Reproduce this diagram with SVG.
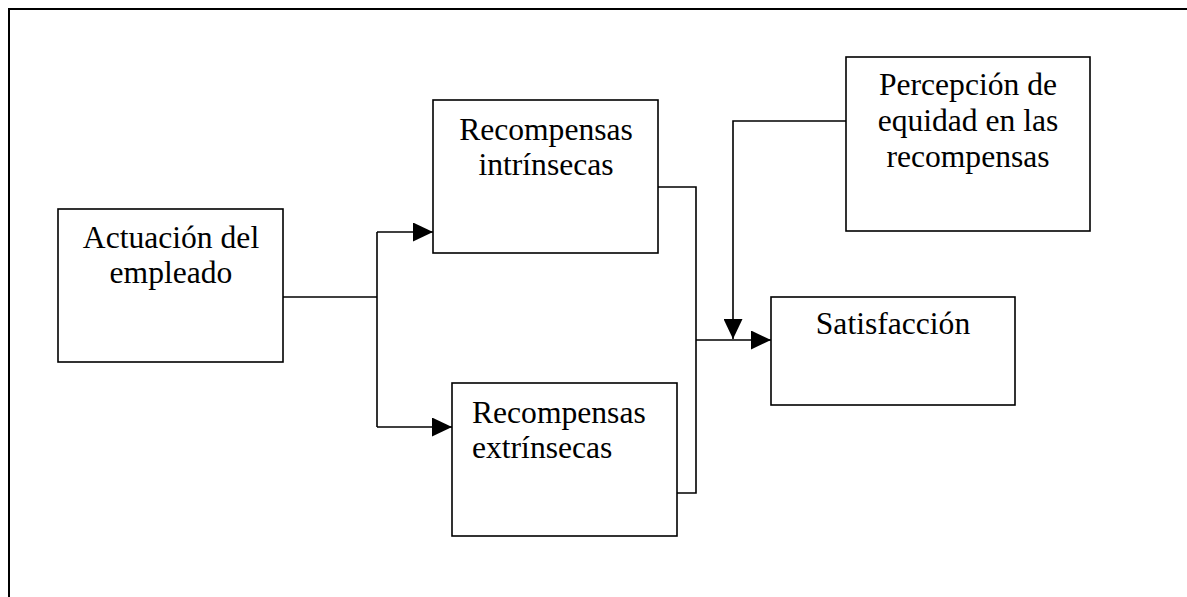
<svg xmlns="http://www.w3.org/2000/svg" width="1187" height="597" viewBox="0 0 1187 597">
  <style>
    .box { fill: #fff; stroke: #000; stroke-width: 1.6; }
    .lbl { font-family: "Liberation Serif", "Times New Roman", serif; font-size: 31.6px; fill: #000; }
    .c { text-anchor: middle; }
    .conn { fill: none; stroke: #000; stroke-width: 1.6; }
  </style>
  <defs>
    <marker id="arr" markerUnits="userSpaceOnUse" markerWidth="20" markerHeight="19" refX="20" refY="9.5" orient="auto">
      <path d="M0,0 L20,9.5 L0,19 Z" fill="#000"/>
    </marker>
  </defs>
  <rect x="0" y="0" width="1187" height="597" fill="#fff"/>
  <rect x="9" y="9" width="1200" height="620" fill="none" stroke="#000" stroke-width="2"/>

  <g id="connectors">
    <path class="conn" d="M283,297 H377"/>
    <path class="conn" d="M377,232 V427"/>
    <path class="conn" d="M377,232 H433" marker-end="url(#arr)"/>
    <path class="conn" d="M377,427 H452" marker-end="url(#arr)"/>
    <path class="conn" d="M658,187 H696 V493 H677"/>
    <path class="conn" d="M696,340 H771" marker-end="url(#arr)"/>
    <path class="conn" d="M846,121 H733 V339" marker-end="url(#arr)"/>
  </g>

  <g id="actuacion">
    <rect class="box" x="58" y="209" width="225" height="153"/>
    <text class="lbl c" x="171" y="248">Actuación del</text>
    <text class="lbl c" x="171" y="283">empleado</text>
  </g>

  <g id="intrinsecas">
    <rect class="box" x="433" y="100" width="225" height="153"/>
    <text class="lbl c" x="546" y="140">Recompensas</text>
    <text class="lbl c" x="546" y="175">intrínsecas</text>
  </g>

  <g id="extrinsecas">
    <rect class="box" x="452" y="383" width="225" height="153"/>
    <text class="lbl" x="472" y="423">Recompensas</text>
    <text class="lbl" x="472" y="458">extrínsecas</text>
  </g>

  <g id="percepcion">
    <rect class="box" x="846" y="57" width="244" height="174"/>
    <text class="lbl c" x="968" y="95">Percepción de</text>
    <text class="lbl c" x="968" y="131">equidad en las</text>
    <text class="lbl c" x="968" y="167">recompensas</text>
  </g>

  <g id="satisfaccion">
    <rect class="box" x="771" y="297" width="244" height="108"/>
    <text class="lbl c" x="893" y="334">Satisfacción</text>
  </g>
</svg>
